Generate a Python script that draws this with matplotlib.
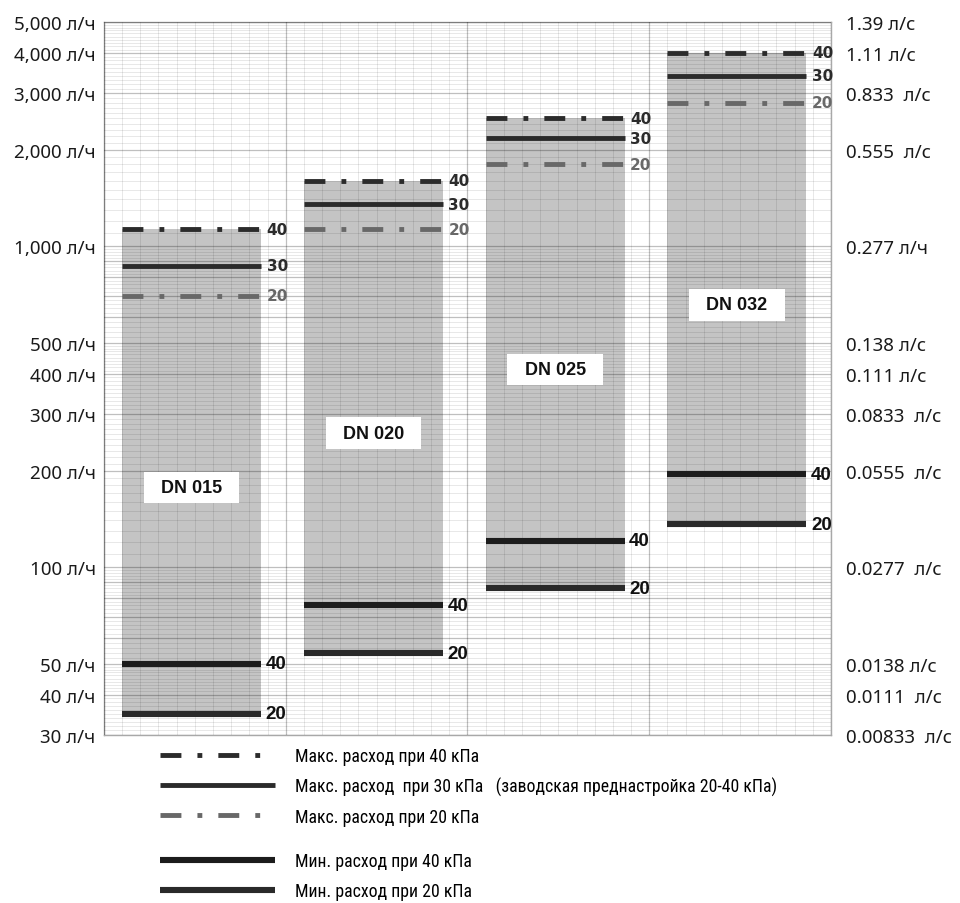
"""Flow ranges of balancing valves DN 015 - DN 032 on a log grid."""

import numpy as np
import matplotlib.pyplot as plt
from matplotlib import font_manager
from matplotlib.lines import Line2D
from matplotlib.ticker import FixedLocator, FuncFormatter, NullLocator

# ---- data ---------------------------------------------------------------
sizes = ['DN 015', 'DN 020', 'DN 025', 'DN 032']
max_40 = [1130, 1600, 2500, 4000]   # l/h, max flow at 40 kPa
max_30 = [870, 1350, 2170, 3400]    # l/h, max flow at 30 kPa
max_20 = [700, 1130, 1800, 2800]    # l/h, max flow at 20 kPa
min_40 = [50, 76, 121, 195]         # l/h, min flow at 40 kPa
min_20 = [35, 54, 86, 136]          # l/h, min flow at 20 kPa

left_ticks = [30, 40, 50, 100, 200, 300, 400, 500, 1000, 2000, 3000, 4000, 5000]
left_labels = ['30 л/ч', '40 л/ч', '50 л/ч', '100 л/ч', '200 л/ч', '300 л/ч',
               '400 л/ч', '500 л/ч', '1,000 л/ч', '2,000 л/ч', '3,000 л/ч',
               '4,000 л/ч', '5,000 л/ч']
right_labels = ['0.00833  л/с', '0.0111  л/с', '0.0138 л/с', '0.0277  л/с',
                '0.0555  л/с', '0.0833  л/с', '0.111 л/с', '0.138 л/с',
                '0.277 л/ч', '0.555  л/с', '0.833  л/с', '1.11 л/с', '1.39 л/с']

legend_labels = ['Макс. расход при 40 кПа',
                 'Макс. расход  при 30 кПа   (заводская преднастройка 20-40 кПа)',
                 'Макс. расход при 20 кПа',
                 'Мин. расход при 40 кПа',
                 'Мин. расход при 20 кПа']

# ---- styles --------------------------------------------------------------
DASHDOT = (4.3, 3.3, 1.0, 3.3)
styles = {
    'max40': dict(color='#2b2b2b', lw=3.5, dashes=DASHDOT, solid_capstyle='butt', dash_capstyle='butt'),
    'max30': dict(color='#2b2b2b', lw=3.5, solid_capstyle='butt'),
    'max20': dict(color='#686868', lw=3.5, dashes=DASHDOT, solid_capstyle='butt', dash_capstyle='butt'),
    'min40': dict(color='#1c1c1c', lw=4.4, solid_capstyle='butt'),
    'min20': dict(color='#2a2a2a', lw=4.4, solid_capstyle='butt'),
}
label_colors = {'max40': '#2b2b2b', 'max30': '#2b2b2b', 'max20': '#686868'}

BAR_LEFT = 0.1
BAR_WIDTH = 0.765
UI_FONT = ['Noto Sans', 'DejaVu Sans']


def pick_narrow_font():
    """Return (family, stretch, size) for a narrow font for the legend."""
    fonts = font_manager.fontManager.ttflist
    names = {f.name for f in fonts}
    for cand in ['Liberation Sans Narrow', 'Roboto Condensed', 'Open Sans Condensed',
                 'Noto Sans Condensed', 'DejaVu Sans Condensed']:
        if cand in names:
            return cand, 'normal', 12.8
    for fam in ['Noto Sans', 'Open Sans', 'DejaVu Sans', 'Roboto']:
        for f in fonts:
            if f.name == fam and f.stretch in ('condensed', 'semi-condensed', 'extra-condensed'):
                return fam, f.stretch, 12.8
    return 'Roboto', 'normal', 11.5


def main():
    fig = plt.figure(figsize=(9.6, 9.04), dpi=100)
    ax = fig.add_axes([0.1083, 0.1858, 0.7573, 0.7889])
    ax.set_yscale('log')
    ax.set_ylim(30, 5000)
    ax.set_xlim(0, 4)

    # log paper grid: darker lines at each integer multiple, fine lines in between
    major = np.concatenate([np.arange(30, 100, 10), np.arange(100, 1000, 100),
                            np.arange(1000, 5001, 1000)])
    minor = np.concatenate([np.arange(30, 50, 1), np.arange(50, 100, 2),
                            np.arange(100, 500, 10), np.arange(500, 1000, 20),
                            np.arange(1000, 5001, 100)])
    ax.yaxis.set_major_locator(FixedLocator(major))
    ax.yaxis.set_minor_locator(FixedLocator(minor))
    lab_map = dict(zip(left_ticks, left_labels))
    ax.yaxis.set_major_formatter(FuncFormatter(lambda v, p: lab_map.get(int(round(v)), '')))
    ax.yaxis.set_minor_formatter(FuncFormatter(lambda v, p: ''))
    ax.xaxis.set_major_locator(FixedLocator(np.arange(0, 5)))
    ax.xaxis.set_minor_locator(FixedLocator(np.arange(0, 4.01, 0.1)))
    ax.tick_params(axis='both', which='both', length=0)
    ax.tick_params(axis='x', labelbottom=False)
    ax.tick_params(axis='y', labelsize=13.5, pad=6, labelcolor='#1a1a1a')
    for t in ax.get_yticklabels():
        t.set_family(UI_FONT)
    ax.set_axisbelow(False)
    ax.grid(which='major', color='black', alpha=0.25, lw=0.9)
    ax.grid(which='minor', color='black', alpha=0.11, lw=0.6)
    for sp in ax.spines.values():
        sp.set_color('#a8a8a8')
        sp.set_linewidth(1.0)

    # right axis in l/s
    ax2 = ax.twinx()
    ax2.set_yscale('log')
    ax2.set_ylim(30, 5000)
    ax2.yaxis.set_major_locator(FixedLocator(left_ticks))
    ax2.yaxis.set_minor_locator(NullLocator())
    ax2.set_yticklabels(right_labels, family=UI_FONT)
    ax2.tick_params(axis='y', length=0, labelsize=13.5, pad=11, labelcolor='#1a1a1a')
    for sp in ax2.spines.values():
        sp.set_visible(False)

    series = [('max40', max_40), ('max30', max_30), ('max20', max_20),
              ('min40', min_40), ('min20', min_20)]

    for i, name in enumerate(sizes):
        x0 = i + BAR_LEFT
        x1 = x0 + BAR_WIDTH
        ax.bar(x0, max_40[i] - min_20[i], bottom=min_20[i], width=BAR_WIDTH,
               align='edge', color='#c4c4c4', zorder=1, linewidth=0)
        for key, vals in series:
            ax.plot([x0, x1], [vals[i], vals[i]], zorder=3, **styles[key])
            txt = key[-2:]
            if key.startswith('max'):
                ax.text(x1 + 0.03, vals[i], txt, fontsize=11, fontweight='bold',
                        color=label_colors[key], va='center', ha='left',
                        family='DejaVu Sans', zorder=4)
            else:
                ax.text(x1 + 0.025, vals[i], txt, fontsize=13.5, fontweight='bold',
                        color='#111111', va='center', ha='left',
                        family='Liberation Sans', zorder=4)
        # size label inside the bar, a bit below its geometric middle
        y_lab = 0.89 * np.sqrt(max_40[i] * min_20[i])
        ax.text(x0 + BAR_WIDTH / 2, y_lab, '  ' + name + '  ', fontsize=13,
                fontweight='bold', family='Liberation Sans', color='#111111',
                ha='center', va='center', zorder=5,
                bbox=dict(boxstyle='square,pad=0.4', facecolor='white', edgecolor='none'))

    # legend in two groups
    fam, stretch, size = pick_narrow_font()
    handles = [Line2D([], [], **styles[k]) for k, _ in series]
    leg_font = dict(family=fam, stretch=stretch, size=size)
    hl = 115 / (size * 100 / 72)
    common = dict(loc='upper left', frameon=False, handlelength=hl,
                  handletextpad=1.15, borderpad=0, borderaxespad=0,
                  labelspacing=0.66, prop=leg_font)
    fig.legend(handles[:3], legend_labels[:3], bbox_to_anchor=(0.1667, 0.1725), **common)
    fig.legend(handles[3:], legend_labels[3:], bbox_to_anchor=(0.1667, 0.0560), **common)

    fig.savefig('out.png', dpi=100)


if __name__ == '__main__':
    main()
